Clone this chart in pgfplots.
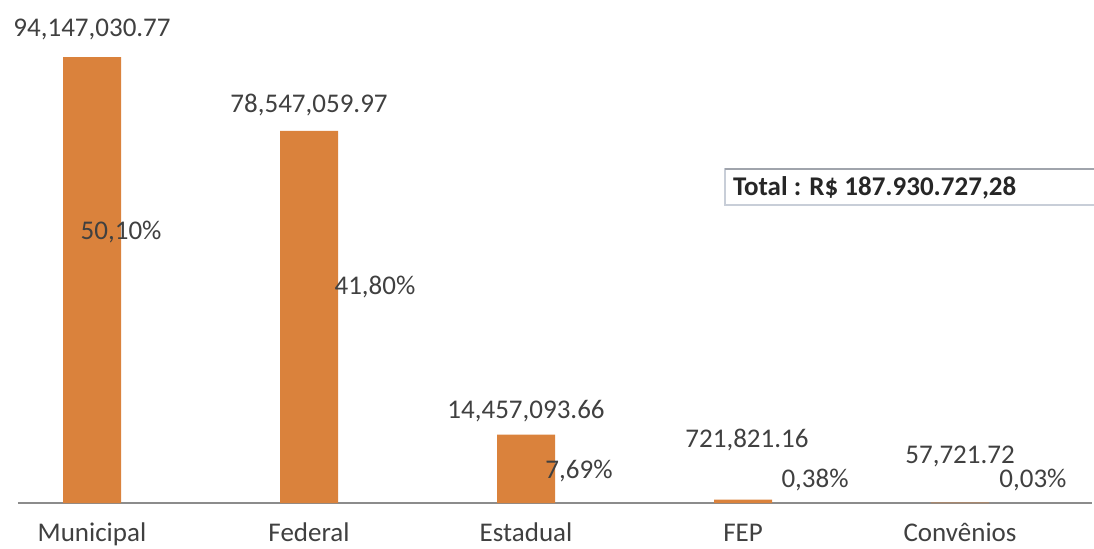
\documentclass[border=0pt]{standalone}
\usepackage{pgfplots}
\pgfplotsset{compat=1.18}
\usepackage{fontspec}
\setmainfont{Carlito}
\definecolor{barorange}{RGB}{218,130,60}
\definecolor{axisgray}{RGB}{140,140,140}
\definecolor{labelgray}{RGB}{64,64,64}
\definecolor{boxedge}{RGB}{200,206,216}
\definecolor{boxtop}{RGB}{160,164,172}

\begin{document}
\begin{tikzpicture}[every node/.style={font=\fontsize{13.5}{16}\selectfont, text=labelgray}]
\useasboundingbox (-9pt,-22.5pt) rectangle (538pt,251.5pt);
\begin{axis}[
  at={(0,0)}, anchor=south west,
  scale only axis, width=537pt, height=241.5pt,
  ybar, bar width=29pt, bar shift=0pt,
  xmin=-0.341, xmax=4.608, ymin=0, ymax=101.957e6,
  axis x line*=bottom, axis y line=none,
  x axis line style={-, draw=axisgray, line width=1pt},
  xtick={0,1,2,3,4},
  xticklabels={Municipal,Federal,Estadual,FEP,Convênios},
  major tick length=0pt,
  xticklabel style={anchor=base, yshift=-19pt, text=labelgray},
  ytick=\empty,
  clip=false,
]
  \addplot[fill=barorange, draw=none] coordinates {
    (0,94147030.77) (1,78547059.97) (2,14457093.66) (3,721821.16) (4,57721.72)
  };

  % valores
  \node at (axis cs:0,100.0e6) {94,147,030.77};
  \node at (axis cs:1,84.0e6) {78,547,059.97};
  \node at (axis cs:2,19.3e6) {14,457,093.66};
  \node at (axis cs:3.018,13.4e6) {721,821.16};
  \node at (axis cs:4,9.8e6) {57,721.72};

  % percentuais
  \node at (axis cs:0.134,57.3e6) {50,10\%};
  \node at (axis cs:1.304,45.7e6) {41,80\%};
  \node at (axis cs:2.244,6.7e6) {7,69\%};
  \node at (axis cs:3.332,4.8e6) {0,38\%};
  \node at (axis cs:4.336,4.8e6) {0,03\%};
\end{axis}

% caixa do total
\draw[boxedge, line width=0.8pt] (353.5pt,167pt) rectangle (560pt,149pt);
\draw[boxtop, line width=0.9pt] (353.5pt,167pt) -- (560pt,167pt);
\node[anchor=west, text=black!85, font=\fontsize{13.5}{16}\selectfont\bfseries]
  at (354pt,157.5pt) {Total : R\$ 187.930.727,28};
\end{tikzpicture}
\end{document}
